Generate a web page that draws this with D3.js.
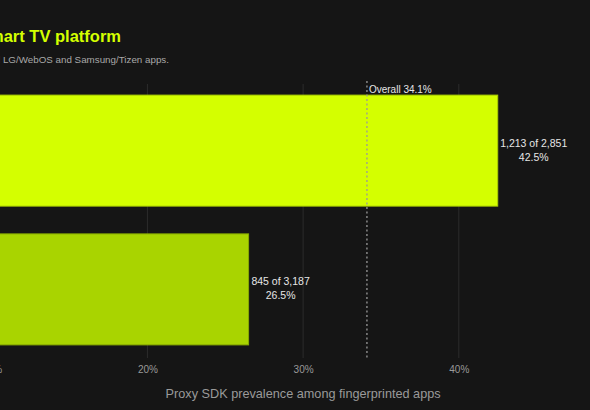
<!DOCTYPE html>
<html>
<head>
<meta charset="utf-8">
<script src="https://cdn.jsdelivr.net/npm/d3@7"></script>
<style>
  html, body { margin: 0; padding: 0; background: #151515; overflow: hidden; }
  svg { display: block; font-family: "Liberation Sans", Arial, Helvetica, sans-serif; }
</style>
</head>
<body>
<svg id="chart" width="590" height="410"></svg>
<script>
"use strict";

// data
var platforms = ["LG/WebOS", "Samsung/Tizen"];
var proxyApps = [1213, 845];
var totalApps = [2851, 3187];
var shares = [0.425, 0.265];
var overallShare = 0.341;
var tickValues = [0, 0.1, 0.2, 0.3, 0.4, 0.5];
var barColors = ["#d4ff00", "#a9d400"];

// layout (the plot starts left of the visible frame, as in the reference crop)
var margin = {top: 84, bottom: 54, left: -164};
var width = 590, height = 410;

var svg = d3.select("#chart");

var x = d3.scaleLinear()
    .domain([0, 0.5])
    .range([margin.left, margin.left + 1557 * 0.5]);

var y = d3.scaleBand()
    .domain(platforms)
    .range([margin.top, height - margin.bottom])
    .paddingInner(0.2)
    .paddingOuter(0.08);

var fmtInt = d3.format(",");
var fmtPct = d3.format(".1%");

// title + subtitle (left part falls outside the frame)
svg.append("text")
    .attr("x", 121).attr("y", 42)
    .attr("text-anchor", "end")
    .attr("fill", "#d4ff00")
    .attr("font-size", 16.5)
    .attr("font-weight", "bold")
    .text("Proxy SDK prevalence by smart TV platform");

svg.append("text")
    .attr("x", 169).attr("y", 63)
    .attr("text-anchor", "end")
    .attr("fill", "#a8a8a8")
    .attr("font-size", 9.8)
    .text("Share of fingerprinted LG/WebOS and Samsung/Tizen apps.");

// grid
svg.append("g")
    .selectAll("line")
    .data(tickValues)
    .join("line")
    .attr("x1", function(d) { return x(d); })
    .attr("x2", function(d) { return x(d); })
    .attr("y1", margin.top)
    .attr("y2", 358)
    .attr("stroke", "#2c2c2c")
    .attr("stroke-width", 1);

// bars
svg.append("g")
    .selectAll("rect")
    .data(platforms)
    .join("rect")
    .attr("x", x(0))
    .attr("y", function(d) { return y(d); })
    .attr("width", function(d, i) { return x(shares[i]) - x(0); })
    .attr("height", y.bandwidth())
    .attr("fill", function(d, i) { return barColors[i]; })
    .attr("stroke", function(d, i) { return d3.color(barColors[i]).darker(0.6); })
    .attr("stroke-width", 1);

// value labels
var labels = svg.append("g")
    .selectAll("text")
    .data(platforms)
    .join("text")
    .attr("text-anchor", "middle")
    .attr("fill", "#e6e6e6")
    .attr("font-size", 10.5)
    .attr("transform", function(d, i) {
        var w = i === 0 ? 66 : 58;
        return "translate(" + (x(shares[i]) + 3 + w / 2) + "," + (y(d) + y.bandwidth() / 2) + ")";
    });
labels.append("tspan")
    .attr("x", 0).attr("y", -4)
    .text(function(d, i) { return fmtInt(proxyApps[i]) + " of " + fmtInt(totalApps[i]); });
labels.append("tspan")
    .attr("x", 0).attr("y", 10)
    .text(function(d, i) { return fmtPct(shares[i]); });

// overall reference line
svg.append("line")
    .attr("x1", x(overallShare)).attr("x2", x(overallShare))
    .attr("y1", 81).attr("y2", 359)
    .attr("stroke", "#9a9a9a")
    .attr("stroke-width", 1.3)
    .attr("stroke-dasharray", "2,2.5");

svg.append("text")
    .attr("x", x(overallShare) + 2).attr("y", 93)
    .attr("fill", "#e6e6e6")
    .attr("font-size", 10)
    .text("Overall " + fmtPct(overallShare));

// x axis
var xAxis = d3.axisBottom(x)
    .tickValues(tickValues)
    .tickFormat(d3.format(".0%"))
    .tickSize(0)
    .tickPadding(0);

var axisG = svg.append("g")
    .attr("transform", "translate(0,366)")
    .call(xAxis);
axisG.select(".domain").remove();
axisG.selectAll("text")
    .attr("fill", "#999999")
    .attr("font-size", 10)
    .attr("font-family", "Liberation Sans, Arial, sans-serif");

svg.append("text")
    .attr("x", x(0.3)).attr("y", 398)
    .attr("text-anchor", "middle")
    .attr("fill", "#9a9a9a")
    .attr("font-size", 12.7)
    .text("Proxy SDK prevalence among fingerprinted apps");
</script>
</body>
</html>
